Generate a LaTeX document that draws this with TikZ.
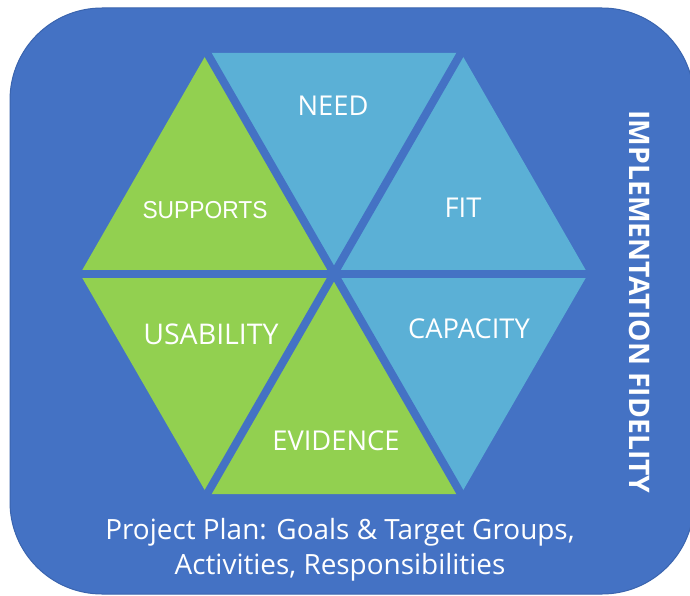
\documentclass[tikz,border=0pt]{standalone}
\usepackage{fontspec}
\setmainfont{Open Sans}
\newfontfamily\arialf{Liberation Sans}
\definecolor{bgblue}{HTML}{4472C4}
\definecolor{bgedge}{HTML}{3A64AE}
\definecolor{leaf}{HTML}{92D050}
\definecolor{sky}{HTML}{5BB0D6}
\begin{document}
\begin{tikzpicture}[x=1pt,y=-1pt,
  lbl/.style={text=white,font=\fontsize{27.3}{32}\selectfont,inner sep=0pt},
  band/.style={draw=bgblue,line width=8pt,shorten <=-8pt,shorten >=-8pt}]
\useasboundingbox (0,0) rectangle (690,596);
\begin{scope}
\clip (0,0) rectangle (690,596);
\draw[fill=bgblue,draw=bgedge,line width=1pt,rounded corners=92pt] (10,8) rectangle (694,594);
\end{scope}
\coordinate (C) at (334,274);
\coordinate (R) at (588,274);
\coordinate (TR) at (461,53);
\coordinate (TL) at (207,53);
\coordinate (L) at (80,274);
\coordinate (BL) at (207,494);
\coordinate (BR) at (461,494);
\fill[leaf] (L) -- (TL) -- (C) -- cycle;
\fill[leaf] (L) -- (BL) -- (C) -- cycle;
\fill[leaf] (BL) -- (BR) -- (C) -- cycle;
\fill[sky] (TL) -- (TR) -- (C) -- cycle;
\fill[sky] (TR) -- (R) -- (C) -- cycle;
\fill[sky] (R) -- (BR) -- (C) -- cycle;
\draw[band] (L) -- (R);
\draw[band] (TL) -- (BR);
\draw[band] (TR) -- (BL);
\node[lbl] (need) at (333,105.5) {NEED};
\node[lbl] (fit) at (463,208) {FIT};
\node[lbl,font=\arialf\fontsize{24.5}{29}\selectfont,xscale=0.93,transform shape] (supports) at (205,210) {SUPPORTS};
\node[lbl,font=\fontsize{28.5}{33}\selectfont] (usability) at (211,334) {USABILITY};
\node[lbl] (capacity) at (469,329) {CAPACITY};
\node[lbl] (evidence) at (336,440.5) {EVIDENCE};
\node[text=white,font=\fontsize{27.9}{35}\selectfont,align=center,inner sep=0pt] (plan) at (340,550)
  {Project Plan: Goals \& Target Groups,\\Activities, Responsibilities};
\node[text=white,font=\bfseries\fontsize{28.3}{32}\selectfont,rotate=-90,inner sep=0pt] (fidelity) at (640,302) {IMPLEMENTATION FIDELITY};
\end{tikzpicture}
\end{document}
